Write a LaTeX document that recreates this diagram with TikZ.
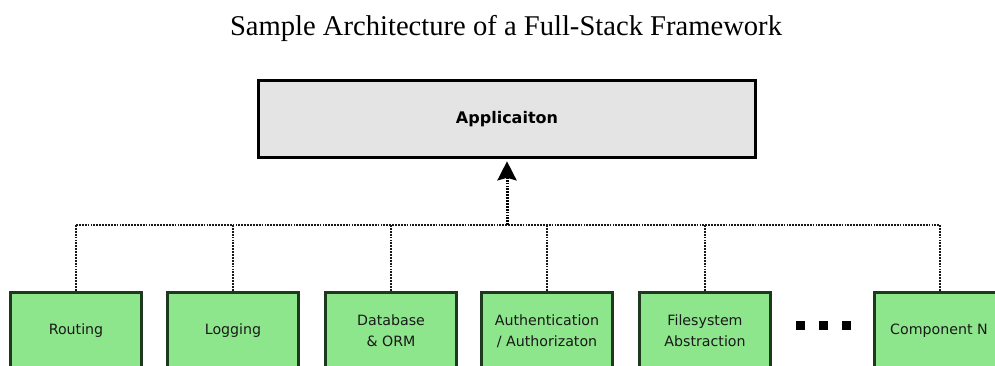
\documentclass[tikz,border=0pt]{standalone}
\usepackage{fontspec}
\setmainfont{Liberation Serif}
\setsansfont{DejaVu Sans}
\usetikzlibrary{arrows.meta}
\definecolor{appfill}{HTML}{E4E4E4}
\definecolor{compfill}{HTML}{8EE68C}
\definecolor{compedge}{HTML}{1E3A1E}
\begin{document}
\begin{tikzpicture}[x=1pt,y=-1pt,
  appbox/.style={draw=black, line width=2.6pt, fill=appfill, minimum width=497pt, minimum height=77pt,
    inner sep=0pt, font=\sffamily\bfseries\fontsize{16}{18}\selectfont},
  compbox/.style={draw=compedge, line width=2.6pt, fill=compfill, minimum width=131pt, minimum height=100pt,
    inner sep=0pt, anchor=north},
  complabel/.style={font=\sffamily\fontsize{14.2}{21}\selectfont, align=center, text=black!90},
  bus/.style={line width=2.7pt, dash pattern=on 1.8pt off 1.1pt, color=black!90},
  dotmark/.style={fill=black, minimum size=9pt, inner sep=0pt}]
\useasboundingbox (0,0) rectangle (995,365);
\clip (0,0) rectangle (995,365);

% title
\node (title) at (506,28) {\fontsize{28.6}{32}\selectfont Sample Architecture of a Full-Stack Framework};

% application layer
\node[appbox] (app) at (507,119) {Applicaiton};

% components
\node[compbox] (routing) at (76,291) {};
\node[compbox] (logging) at (233,291) {};
\node[compbox] (db) at (391,291) {};
\node[compbox] (auth) at (547,291) {};
\node[compbox] (fs) at (705,291) {};
\node[compbox] (compn) at (940,291) {};

\node[complabel] at (76,331) {Routing};
\node[complabel] at (233,331) {Logging};
\node[complabel] at (391,331) {Database\\\& ORM};
\node[complabel] at (547,331) {Authentication\\/ Authorizaton};
\node[complabel] at (705,331) {Filesystem\\Abstraction};
\node[complabel] at (939,331) {Component N};

% ellipsis between components
\node[dotmark] (d1) at (800,325) {};
\node[dotmark] (d2) at (823,325) {};
\node[dotmark] (d3) at (846,325) {};

% bus
\coordinate (busL) at (routing.north |- 0,225);
\coordinate (busR) at (compn.north |- 0,225);
\coordinate (busM) at (app.south |- 0,225);
\draw[bus] (busL) -- (busR);
\foreach \c in {routing,logging,db,auth,fs,compn}
  \draw[bus] (\c.north |- 0,225) -- (\c.north);
\draw[bus, color=black, line width=3pt, shorten >=2.5pt,
  -{Stealth[width=19pt,length=19pt,inset=2.5pt]}] (busM) -- (app.south);
\end{tikzpicture}
\end{document}
